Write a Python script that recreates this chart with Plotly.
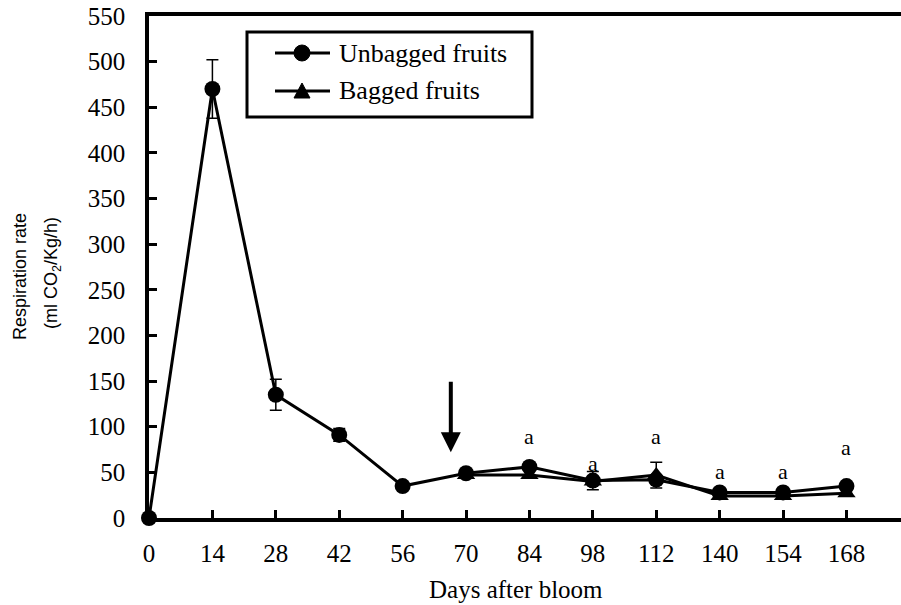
import plotly.graph_objects as go

# ---- data ----
days = ["0", "14", "28", "42", "56", "70", "84", "98", "112", "140", "154", "168"]
unbagged = [0, 470, 135, 91, 35, 49, 56, 41, 42, 28, 28, 35]
unbagged_err = [0, 32, 17, 7, 0, 0, 0, 10, 0, 0, 0, 0]

bagged_days = ["70", "84", "98", "112", "140", "154", "168"]
bagged = [47, 47, 40, 47, 24, 24, 27]
bagged_err = [0, 0, 0, 14, 0, 0, 0]

letter_days = ["84", "98", "112", "140", "154", "168"]
letter_y = [89, 60, 89, 51, 51, 77]
letters = ["a", "a", "a", "a", "a", "a"]

series_names = ["Unbagged fruits", "Bagged fruits"]

SERIF = "Liberation Serif"
SANS = "Liberation Sans"

# plot-area geometry (pixels) used for the hand-drawn legend box
PL, PR, PT, PB = 149, 901, 16, 518


def px(xp):
    return (xp - PL) / (PR - PL)


def py(yp):
    return 1 - (yp - PT) / (PB - PT)


fig = go.Figure()
fig.add_trace(go.Scatter(
    x=days, y=unbagged, name=series_names[0], mode="lines+markers",
    line=dict(color="black", width=3),
    marker=dict(symbol="circle", size=16, color="black"),
    error_y=dict(type="data", array=unbagged_err, visible=True,
                 color="black", thickness=1.5, width=6),
    cliponaxis=False, showlegend=False,
))
fig.add_trace(go.Scatter(
    x=bagged_days, y=bagged, name=series_names[1], mode="lines+markers",
    line=dict(color="black", width=3),
    marker=dict(symbol="triangle-up", size=16, color="black"),
    error_y=dict(type="data", array=bagged_err, visible=True,
                 color="black", thickness=1.5, width=6),
    cliponaxis=False, showlegend=False,
))

for d, yv, t in zip(letter_days, letter_y, letters):
    fig.add_annotation(x=days.index(d), y=yv, xref="x", yref="y", text=t,
                       showarrow=False, xanchor="center", yanchor="middle",
                       font=dict(family=SERIF, size=22, color="black"))

# arrow marking bagging time
fig.add_annotation(x=4.76, y=72, ax=4.76, ay=151, xref="x", yref="y",
                   axref="x", ayref="y", text="", showarrow=True,
                   arrowhead=2, arrowsize=1, arrowwidth=4, arrowcolor="black")

# axis titles
fig.add_annotation(xref="paper", yref="paper", x=-0.1715, y=0.48,
                   xanchor="center", yanchor="middle",
                   text="Respiration rate", textangle=-90, showarrow=False,
                   font=dict(family=SANS, size=18, color="black"))
fig.add_annotation(xref="paper", yref="paper", x=-0.129, y=0.488,
                   xanchor="center", yanchor="middle",
                   text="(ml CO<sub>2</sub>/Kg/h)", textangle=-90, showarrow=False,
                   font=dict(family=SANS, size=18, color="black"))
fig.add_annotation(xref="paper", yref="paper", x=0.488, y=-0.143,
                   xanchor="center", yanchor="middle",
                   text="Days after bloom", showarrow=False,
                   font=dict(family=SERIF, size=25, color="black"))

# ---- legend (boxed, drawn in paper coordinates) ----
fig.add_shape(type="rect", xref="paper", yref="paper",
              x0=px(247), x1=px(532), y0=py(117), y1=py(32),
              line=dict(color="black", width=3), fillcolor="white", layer="above")
rows = [53, 91]
for i, (name, ry) in enumerate(zip(series_names, rows)):
    fig.add_shape(type="line", xref="paper", yref="paper",
                  x0=px(275), x1=px(330), y0=py(ry), y1=py(ry),
                  line=dict(color="black", width=3), layer="above")
    if i == 0:
        fig.add_shape(type="circle", xref="paper", yref="paper",
                      x0=px(294), x1=px(310), y0=py(ry + 8), y1=py(ry - 8),
                      line=dict(color="black", width=1), fillcolor="black",
                      layer="above")
    else:
        path = (f"M {px(294)},{py(ry + 7)} L {px(310)},{py(ry + 7)} "
                f"L {px(302)},{py(ry - 8)} Z")
        fig.add_shape(type="path", xref="paper", yref="paper", path=path,
                      line=dict(color="black", width=1), fillcolor="black",
                      layer="above")
    fig.add_annotation(xref="paper", yref="paper", x=px(337), y=py(ry),
                       xanchor="left", yanchor="middle", text=name,
                       showarrow=False,
                       font=dict(family=SERIF, size=26, color="black"))

fig.update_layout(
    width=901, height=605,
    margin=dict(l=149, r=0, t=16, b=87, autoexpand=False),
    plot_bgcolor="white", paper_bgcolor="white",
    showlegend=False,
    hovermode=False,
    xaxis=dict(type="category", categoryorder="array", categoryarray=days,
               range=[0, 11.86], showgrid=False, zeroline=False,
               showline=True, linecolor="black", linewidth=3.5, mirror=True,
               ticks="inside", ticklen=8, tickwidth=2.5, tickcolor="black",
               tickfont=dict(family=SERIF, size=25, color="black"),
               ticklabelstandoff=10, ticklabeloverflow="allow"),
    yaxis=dict(range=[0, 550], dtick=50, showgrid=False, zeroline=False,
               showline=True, linecolor="black", linewidth=3.5,
               ticks="inside", ticklen=8, tickwidth=2.5, tickcolor="black",
               tickfont=dict(family=SERIF, size=25, color="black"),
               ticklabelstandoff=15, ticklabeloverflow="allow"),
)

fig.write_html(
    "out.html",
    config={"displayModeBar": False},
    post_script="document.body.style.margin='0';"
                "document.body.style.overflow='hidden';",
)
